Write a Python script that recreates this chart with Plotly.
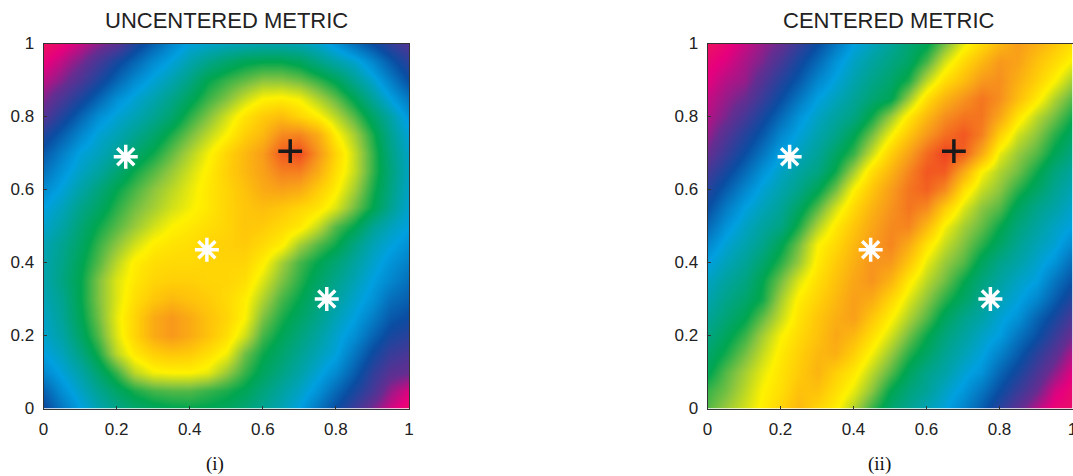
import plotly.graph_objects as go

grid = [0, .05, .1, .15, .2, .25, .3, .35, .4, .45, .5, .55, .6, .65, .7, .75, .8, .85, .9, .95, 1]
ticks = [0, .2, .4, .6, .8, 1]
tick_labels = ["0", "0.2", "0.4", "0.6", "0.8", "1"]
star_x = [.225, .447, .775]
star_y = [.69, .435, .3]
plus_x = [.675]
plus_y = [.705]

# colour level, rows from y=0 upwards
uncentered = [
    [1.9,2.5,3,3.35,3.6,3.8,3.9,3.97,4,3.97,3.9,3.75,3.55,3.3,3,2.5,2,1.45,.9,.45,.15],
    [2.25,2.8,3.2,3.55,3.85,4.1,4.25,4.3,4.3,4.2,4.1,3.95,3.7,3.45,3.2,2.85,2.35,1.85,1.35,.75,.4],
    [2.7,3.05,3.4,3.8,4.2,4.7,4.95,5,5,4.9,4.55,4.2,3.9,3.65,3.4,3.1,2.75,2.2,1.6,1.15,1],
    [3,3.25,3.65,4.1,4.7,5.1,5.35,5.45,5.4,5.2,4.95,4.4,4.05,3.8,3.55,3.3,3.05,2.5,1.95,1.5,1.3],
    [3.15,3.4,3.85,4.3,4.85,5.3,5.75,5.95,5.75,5.5,5.2,4.8,4.25,3.95,3.7,3.45,3.15,2.8,2.3,1.85,1.65],
    [3.2,3.5,3.95,4.4,4.9,5.3,5.75,5.95,5.75,5.5,5.3,5,4.45,4.1,3.85,3.6,3.3,3,2.6,2.15,1.95],
    [3.3,3.55,4,4.45,4.85,5.2,5.45,5.6,5.5,5.4,5.25,5.05,4.65,4.25,4,3.7,3.45,3.15,2.85,2.4,2.2],
    [3.35,3.65,4,4.45,4.85,5.1,5.3,5.35,5.35,5.3,5.3,5.2,4.85,4.45,4.15,3.85,3.6,3.3,3,2.7,2.4],
    [3.35,3.6,3.95,4.3,4.7,5.05,5.2,5.25,5.25,5.3,5.3,5.3,5.05,4.6,4.25,4,3.75,3.45,3.15,2.85,2.6],
    [3.3,3.55,3.85,4.2,4.5,4.8,5.05,5.15,5.2,5.3,5.35,5.4,5.25,5.05,4.6,4.3,4.05,3.65,3.3,3.05,2.8],
    [3.15,3.4,3.75,4.05,4.3,4.55,4.8,5,5.1,5.2,5.3,5.45,5.4,5.25,5.1,4.75,4.3,4,3.55,3.25,3],
    [3,3.25,3.6,3.85,4.15,4.4,4.6,4.8,4.95,5.1,5.3,5.45,5.55,5.45,5.3,5.15,4.85,4.4,4,3.55,3.1],
    [2.75,3.05,3.4,3.7,4,4.25,4.5,4.7,4.9,5.1,5.3,5.5,5.75,5.85,5.75,5.4,5.05,4.6,4.1,3.65,3.15],
    [2.45,2.85,3.2,3.45,3.75,4.05,4.3,4.55,4.8,5.05,5.35,5.6,5.85,6.2,6.2,5.75,5.2,4.75,4.2,3.7,3.2],
    [2.15,2.6,3.05,3.25,3.5,3.8,4.05,4.35,4.65,4.95,5.3,5.6,5.9,6.55,6.7,6,5.3,4.75,4.2,3.65,3.15],
    [1.75,2.2,2.7,3.1,3.3,3.55,3.8,4.1,4.4,4.7,5,5.35,5.6,6.1,6.15,5.75,5.05,4.6,4.1,3.55,3.05],
    [1.2,1.75,2.3,2.8,3.1,3.3,3.55,3.8,4.15,4.45,4.8,5.15,5.4,5.55,5.3,5.05,4.7,4.3,3.85,3.4,2.85],
    [.85,1.3,1.8,2.3,2.8,3.1,3.35,3.6,3.9,4.2,4.45,4.75,5,5.05,4.95,4.65,4.35,3.95,3.5,3,2.5],
    [.55,.85,1.3,1.8,2.3,2.75,3.1,3.35,3.65,4,4.2,4.35,4.5,4.5,4.4,4.2,3.95,3.55,3.15,2.6,2],
    [.3,.55,.9,1.35,1.85,2.3,2.75,3.05,3.35,3.6,3.8,3.95,4,4,3.9,3.65,3.4,3.15,2.7,2.15,1.6],
    [.05,.25,.5,.8,1.1,1.75,2.25,2.7,3.05,3.15,3.25,3.3,3.35,3.35,3.3,3.15,2.85,2.4,2,1.55,1.2],
]

centered = [
    [4.3,4.55,4.8,5.05,5.3,5.6,5.3,5.05,4.65,4.2,3.8,3.55,3.3,3.05,2.65,2.2,1.65,1.1,.6,.25,.15],
    [4.2,4.4,4.7,5,5.2,5.5,5.5,5.2,4.9,4.5,4,3.7,3.5,3.2,2.9,2.5,2,1.5,1,.45,.2],
    [3.95,4.3,4.6,4.9,5.15,5.4,5.65,5.35,5.1,4.7,4.3,3.9,3.6,3.4,3.1,2.85,2.3,1.85,1.3,.8,.35],
    [3.8,4.07,4.4,4.75,5.08,5.34,5.6,5.7,5.35,4.96,4.55,4.15,3.85,3.55,3.3,3.05,2.65,2.2,1.65,1.15,.6],
    [3.65,3.9,4.2,4.6,4.97,5.25,5.5,5.78,5.6,5.2,4.8,4.4,4.03,3.7,3.45,3.2,2.97,2.5,2.05,1.5,.95],
    [3.5,3.73,3.97,4.35,4.75,5.15,5.45,5.7,5.88,5.45,5.03,4.65,4.3,3.9,3.6,3.4,3.1,2.85,2.3,1.85,1.3],
    [3.35,3.6,3.8,4.07,4.6,5.05,5.33,5.6,5.88,5.74,5.28,4.85,4.5,4.15,3.85,3.55,3.3,3.05,2.7,2.2,1.7],
    [3.2,3.45,3.65,4,4.4,4.85,5.2,5.5,5.8,6,5.65,5.1,4.7,4.4,4.03,3.7,3.45,3.2,3,2.5,2.05],
    [3,3.27,3.5,3.8,4.15,4.55,5.07,5.4,5.7,6,5.95,5.45,4.9,4.55,4.3,3.9,3.6,3.4,3.15,2.85,2.35],
    [2.7,3.1,3.35,3.6,3.95,4.4,4.98,5.25,5.6,5.9,6.15,5.75,5.15,4.75,4.45,4.15,3.85,3.55,3.3,3.1,2.7],
    [2.35,2.85,3.2,3.45,3.65,4.1,4.65,5.1,5.45,5.8,6.1,6.15,5.6,4.96,4.6,4.35,4.03,3.7,3.45,3.2,3],
    [2,2.55,3,3.27,3.5,3.85,4.3,4.8,5.25,5.65,6,6.3,6.1,5.4,4.85,4.5,4.3,3.9,3.6,3.4,3.15],
    [1.7,2.2,2.7,3.1,3.35,3.6,3.95,4.4,5,5.45,5.9,6.3,6.5,6.1,5.2,4.75,4.5,4.15,3.85,3.55,3.3],
    [1.37,1.85,2.35,2.85,3.2,3.45,3.65,4.05,4.6,5.2,5.65,6.15,6.6,6.55,5.75,5,4.65,4.4,4.05,3.7,3.45],
    [1,1.5,2,2.5,3,3.25,3.5,3.85,4.2,4.75,5.35,5.85,6.4,6.8,6.5,5.75,4.9,4.55,4.3,3.95,3.65],
    [.75,1.2,1.7,2.15,2.7,3.05,3.35,3.6,3.95,4.4,4.95,5.45,5.95,6.35,6.6,6.2,5.35,4.8,4.5,4.15,3.85],
    [.6,.9,1.35,1.85,2.35,2.85,3.2,3.45,3.65,4.05,4.55,5.1,5.6,6.05,6.3,6.3,5.8,5.15,4.7,4.4,4.05],
    [.5,.75,1,1.5,2,2.5,3,3.25,3.5,3.75,3.95,4.55,5.2,5.65,6,6.3,6.05,5.55,5.1,4.65,4.3],
    [.35,.6,.75,1.2,1.7,2.15,2.7,3.05,3.35,3.6,3.8,4.1,4.7,5.2,5.55,5.95,6.05,5.7,5.35,5,4.6],
    [.25,.4,.65,.9,1.35,1.85,2.35,2.85,3.2,3.45,3.65,3.85,4.25,4.8,5.25,5.6,5.95,5.85,5.5,5.25,4.95],
    [.05,.25,.5,.75,1,1.5,2,2.5,3,3.25,3.5,3.75,3.95,4.4,4.9,5.25,5.6,5.9,5.7,5.45,5.2],
]

color_stops = [(0, "#ee1559"), (.35, "#e6007e"), (1, "#662d91"), (2, "#0a4da2"), (3, "#00a0e0"), (4, "#00a650"),
               (4.5, "#8dc63f"), (5, "#fff200"), (5.4, "#ffcb08"), (6, "#f7941d"), (7, "#ee2e24")]
colorscale = [[v / 7, c] for v, c in color_stops]

W, H = 1073, 476
fx = lambda px: px / W
fy = lambda py: 1 - py / H

fig = go.Figure()
panels = [("x", "y", uncentered, "", (43.5, 409)), ("x2", "y2", centered, "2", (707.5, 1072.5))]
for xa, ya, z, suf, (l, r) in panels:
    fig.add_trace(go.Heatmap(x=grid, y=grid, z=z, xaxis=xa, yaxis=ya, zmin=0, zmax=7,
                             colorscale=colorscale, zsmooth="best", showscale=False))
    fig.add_trace(go.Scatter(x=star_x, y=star_y, xaxis=xa, yaxis=ya, mode="markers", showlegend=False,
                             marker=dict(symbol="asterisk-open", size=20, color="white",
                                         line=dict(color="white", width=3.5))))
    fig.add_trace(go.Scatter(x=plus_x, y=plus_y, xaxis=xa, yaxis=ya, mode="markers", showlegend=False,
                             marker=dict(symbol="cross-thin-open", size=17, color="#1a1a1a",
                                         line=dict(color="#1a1a1a", width=3.5))))
    common = dict(range=[0, 1], tickmode="array", tickvals=ticks, ticktext=tick_labels, ticks="inside",
                  ticklen=3, tickwidth=1, tickcolor="#333", showgrid=False, zeroline=False,
                  showline=True, linecolor="#333", linewidth=1, mirror=True, automargin=False,
                  ticklabelstandoff=5, ticklabeloverflow="allow",
                  tickfont=dict(family="Liberation Sans", size=17, color="#222"))
    fig.layout["xaxis" + suf] = dict(common, domain=[fx(l), fx(r)], anchor="y" + suf)
    fig.layout["yaxis" + suf] = dict(common, domain=[fy(408.5), fy(43.5)], anchor="x" + suf)

texts = [("UNCENTERED METRIC", 226, 21, "Liberation Sans", 22, "#222"),
         ("CENTERED METRIC", 889, 21, "Liberation Sans", 22, "#222"),
         ("(i)", 215, 464, "Liberation Serif", 19, "#111"),
         ("(ii)", 879, 464, "Liberation Serif", 19, "#111")]
for t, px, py, fam, sz, col in texts:
    fig.add_annotation(text=t, x=fx(px), y=fy(py), xref="paper", yref="paper", showarrow=False,
                       xanchor="center", yanchor="middle", font=dict(family=fam, size=sz, color=col))

fig.update_layout(width=W, height=H, margin=dict(l=0, r=0, t=0, b=0, autoexpand=False), paper_bgcolor="white",
                  plot_bgcolor="white", showlegend=False)
# the default page keeps an 8px body margin that would push the figure off the window
fig.write_html("out.html", default_width=f"{W}px", default_height=f"{H}px",
               config={"displayModeBar": False},
               post_script="document.body.style.margin='0';document.documentElement.style.overflow='hidden';")
